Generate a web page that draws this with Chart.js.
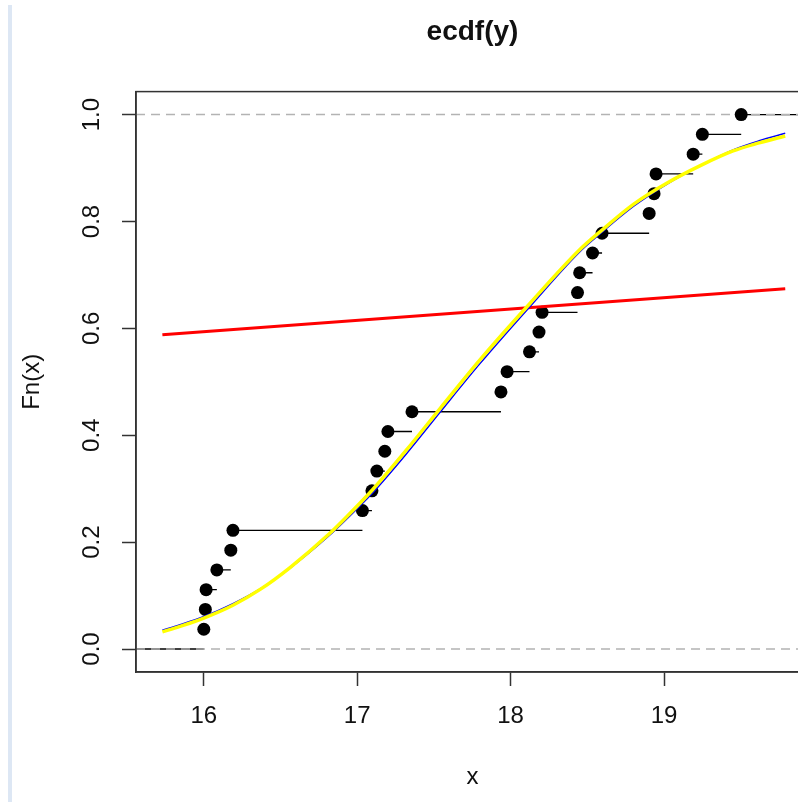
<!DOCTYPE html>
<html>
<head>
<meta charset="utf-8">
<title>ecdf(y)</title>
<script src="https://cdn.jsdelivr.net/npm/chart.js@4.4.1/dist/chart.umd.min.js"></script>
<style>
  html, body { margin: 0; padding: 0; background: #fff; overflow: hidden; }
  #wrap { position: relative; width: 798px; height: 802px; overflow: hidden; }
  #edge { position: absolute; left: 8px; top: 5px; bottom: 0; width: 4px; background: #dde7f4; }
  #ecdfChart { position: absolute; left: 0; top: 0; }
</style>
</head>
<body>
<div id="wrap">
  <div id="edge"></div>
  <canvas id="ecdfChart" width="820" height="802" style="width:820px;height:802px"></canvas>
</div>
<script>
// jump points of the empirical CDF and the height reached at each one
const knots = [16.00, 16.01, 16.015, 16.085, 16.176, 16.19, 17.034, 17.096, 17.128, 17.18,
               17.20, 17.357, 17.937, 17.977, 18.123, 18.185, 18.205, 18.436, 18.45, 18.534,
               18.596, 18.903, 18.935, 18.948, 19.19, 19.25, 19.503];
const fnValues = [0.037, 0.074, 0.111, 0.148, 0.185, 0.222, 0.259, 0.296, 0.333, 0.370,
                  0.407, 0.444, 0.481, 0.519, 0.556, 0.593, 0.630, 0.667, 0.704, 0.741,
                  0.778, 0.815, 0.852, 0.889, 0.926, 0.963, 1.000];

// smooth fitted curves (yellow drawn over blue)
const curveX = [15.73, 15.84, 16.0, 16.19, 16.37, 16.56, 16.82, 16.93, 17.1, 17.32,
                17.54, 17.8, 18.13, 18.45, 18.58, 18.8, 19.02, 19.24, 19.45, 19.62, 19.79];
const yellowY = [0.032, 0.042, 0.058, 0.082, 0.112, 0.152, 0.216, 0.247, 0.298, 0.372,
                 0.450, 0.541, 0.648, 0.747, 0.780, 0.832, 0.872, 0.905, 0.932, 0.947, 0.960];
const blueY = [0.035, 0.045, 0.061, 0.085, 0.113, 0.151, 0.213, 0.243, 0.292, 0.365,
               0.443, 0.534, 0.642, 0.743, 0.776, 0.828, 0.870, 0.905, 0.934, 0.951, 0.965];

// red straight line
const redX = [15.73, 19.79];
const redY = [0.588, 0.674];

const refLevels = [0, 1];
const xTicks = [16, 17, 18, 19];
const yTicks = [0, 0.2, 0.4, 0.6, 0.8, 1.0];

const X_MIN = 15.558, X_MAX = 19.945;
const Y_MIN = -0.043, Y_MAX = 1.043;
const FONT = "'Liberation Sans', Arial, sans-serif";

const toPoints = (xs, ys) => xs.map((x, i) => ({ x, y: ys[i] }));

// horizontal pieces of the step function, separated by gaps
const stepData = [{ x: X_MIN, y: 0 }, { x: knots[0], y: 0 }, { x: knots[0], y: null }];
knots.forEach((k, i) => {
    const next = i < knots.length - 1 ? knots[i + 1] : X_MAX;
    stepData.push({ x: k, y: fnValues[i] }, { x: next, y: fnValues[i] }, { x: next, y: null });
});

const refData = [];
refLevels.forEach(v => {
    refData.push({ x: X_MIN, y: v }, { x: X_MAX, y: v }, { x: X_MAX, y: null });
});

const plotBox = {
    id: 'plotBox',
    afterDraw(chart) {
        const { ctx, chartArea: a } = chart;
        ctx.save();
        ctx.strokeStyle = '#333';
        ctx.lineWidth = 1.5;
        ctx.strokeRect(a.left, a.top, a.right - a.left, a.bottom - a.top);
        ctx.restore();
    }
};

const lineSet = (data, color, width, order, extra) => Object.assign({
    data, showLine: true, borderColor: color, borderWidth: width,
    pointRadius: 0, fill: false, order
}, extra || {});

new Chart(document.getElementById('ecdfChart'), {
    type: 'scatter',
    data: {
        datasets: [
            lineSet(toPoints(curveX, yellowY), '#ffff00', 3.5, 0, { cubicInterpolationMode: 'monotone' }),
            lineSet(toPoints(curveX, blueY), '#0000ff', 1.5, 1, { cubicInterpolationMode: 'monotone' }),
            lineSet(toPoints(redX, redY), '#ff0000', 3, 2),
            {
                data: toPoints(knots, fnValues), showLine: false, order: 3,
                pointRadius: 6.5, pointBackgroundColor: '#000', pointBorderWidth: 0
            },
            lineSet(refData, '#b3b3b3', 1.5, 4, { borderDash: [9, 6] }),
            lineSet(stepData, '#000', 1.3, 5)
        ]
    },
    options: {
        responsive: false,
        animation: false,
        events: [],
        layout: { padding: { left: 0, top: 0, right: 11, bottom: 0 } },
        plugins: {
            legend: { display: false },
            tooltip: { enabled: false },
            title: {
                display: true,
                text: 'ecdf(y)',
                fullSize: false,
                color: '#111',
                font: { family: FONT, size: 28, weight: 'bold' },
                padding: { top: 15, bottom: 43 }
            }
        },
        scales: {
            x: {
                type: 'linear',
                min: X_MIN,
                max: X_MAX,
                afterBuildTicks: s => { s.ticks = xTicks.map(v => ({ value: v })); },
                afterFit: s => { s.height = 130; },
                grid: { display: true, drawOnChartArea: false, drawTicks: true, tickLength: 14, tickColor: '#333', tickWidth: 1.5 },
                border: { display: true, color: '#333', width: 1.5 },
                ticks: { font: { family: FONT, size: 24 }, color: '#111', padding: 16, maxRotation: 0, minRotation: 0, autoSkip: false },
                title: { display: true, text: 'x', color: '#111', font: { family: FONT, size: 24 }, padding: { top: 0, bottom: 10 } }
            },
            y: {
                type: 'linear',
                min: Y_MIN,
                max: Y_MAX,
                afterBuildTicks: s => { s.ticks = yTicks.map(v => ({ value: v })); },
                afterFit: s => { s.width = 136; },
                grid: { display: true, drawOnChartArea: false, drawTicks: true, tickLength: 14, tickColor: '#333', tickWidth: 1.5 },
                border: { display: true, color: '#333', width: 1.5 },
                ticks: {
                    font: { family: FONT, size: 24 }, color: '#111', padding: 13,
                    minRotation: 90, maxRotation: 90, crossAlign: 'center', autoSkip: false,
                    callback: v => v.toFixed(1)
                },
                title: { display: true, text: 'Fn(x)', color: '#111', font: { family: FONT, size: 24 }, padding: { top: 18, bottom: 0 } }
            }
        }
    },
    plugins: [plotBox]
});
</script>
</body>
</html>
